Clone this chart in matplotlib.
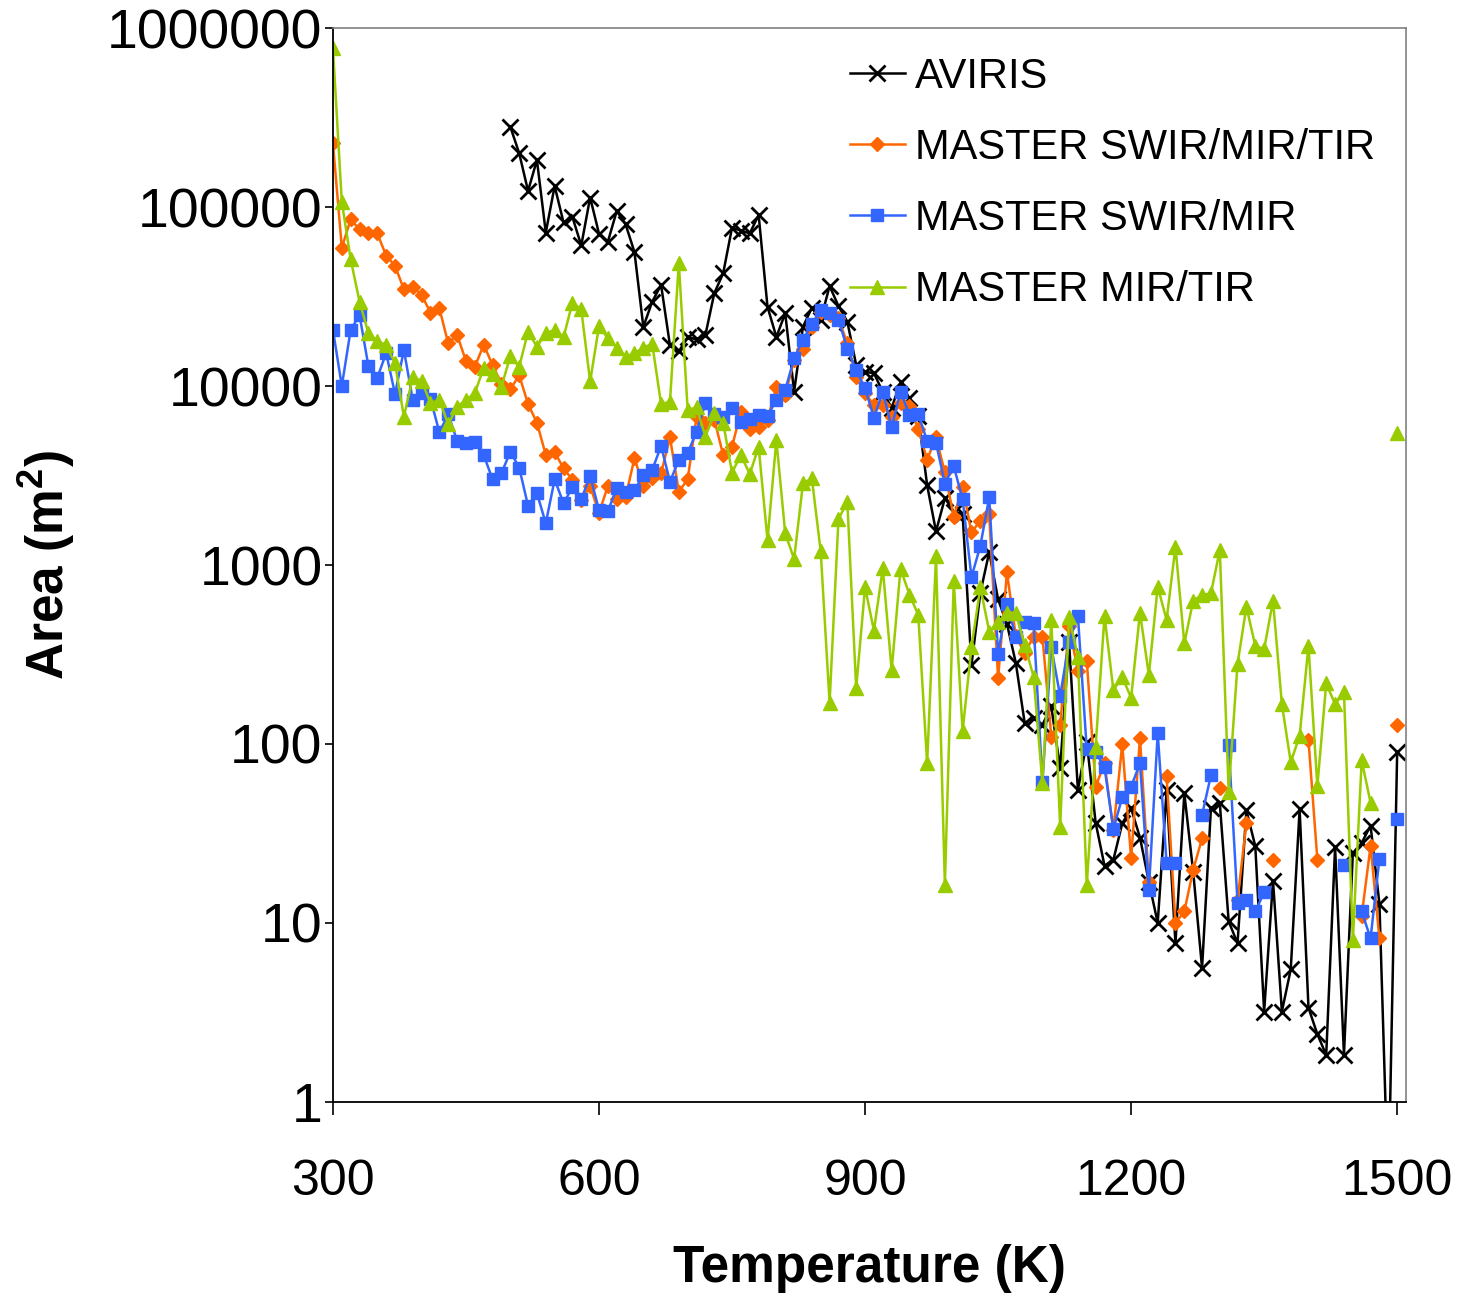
import matplotlib
matplotlib.use("Agg")
import matplotlib.pyplot as plt
import numpy as np
from matplotlib.ticker import FixedLocator, FuncFormatter

nan = np.nan

# temperatures (K)
temps_master = list(range(300, 1510, 10))
temps_aviris = list(range(500, 1510, 10))

aviris = [281000, 200000, 123000, 183000, 72000, 131000, 82000, 88000, 61000, 113000,
          71000, 64000, 95000, 80000, 56000, 21400, 29600, 36700, 16900, 15600,
          18800, 18200, 19300, 33000, 42600, 76700, 73800, 71300, 90200, 27700,
          18800, 25500, 9290, 21400, 27400, 23400, 36200, 28000, 22900, 13100,
          12000, 11800, 9260, 7560, 10500, 8530, 6800, 2790, 1540, 2360,
          1990, 1920, 277, 700, 1180, 643, 468, 284, 131, 140,
          128, 162, 73, 373, 55.3, 103, 36.3, 20.9, 22.5, 36,
          43.7, 30, 17, 10, 55, 7.7, 53, 19.3, 5.6, 43.7,
          46.6, 10.2, 7.7, 42.5, 26.9, 3.2, 17.2, 3.2, 5.5, 43.1,
          3.36, 2.39, 1.83, 26.5, 1.83, 24.5, 28, 35, 12.8, 0.3,
          90]

swir_mir_tir = [227000, 59300, 85300, 75000, 71200, 71200, 53500, 47000, 34700, 35900,
                32200, 25700, 27200, 17300, 19300, 13800, 12800, 17000, 13100, 10300,
                9580, 11500, 7930, 6240, 4120, 4270, 3470, 2990, 2310, 2760,
                1950, 2760, 2330, 2400, 3950, 2760, 3050, 3250, 5170, 2570,
                3010, 6740, 6190, 6500, 4120, 4580, 7190, 5730, 5920, 6500,
                9830, 8910, 14000, 16200, 21400, 26000, 24800, 23900, 17300, 11300,
                9100, 7830, 7830, 6740, 8000, 7700, 5750, 3880, 5170, 3290,
                1860, 2720, 1520, 1770, 1920, 234, 910, 400, 321, 398,
                398, 110, 128, 456, 256, 292, 57.7, 78, 33, 100,
                23, 108, 17, nan, 66, 10, 11.6, 19.8, 29.7, nan,
                56.5, nan, 13.4, 36.3, nan, nan, 22.6, nan, nan, nan,
                105, 22.6, nan, nan, nan, nan, 11, 26.9, 8.2, nan,
                128]

swir_mir = [20600, 10000, 20600, 24900, 12900, 11100, 15300, 9020, 15900, 8350,
            9180, 8500, 5510, 6950, 4950, 4780, 4870, 4110, 3010, 3250,
            4300, 3500, 2140, 2520, 1710, 3010, 2210, 2720, 2330, 3140,
            2030, 2000, 2680, 2570, 2620, 3180, 3400, 4620, 2920, 3860,
            4210, 5560, 8000, 6980, 6680, 7500, 6320, 6520, 6890, 6800,
            8350, 9510, 14300, 18100, 22200, 26600, 25500, 23400, 16200, 12300,
            9710, 6660, 9290, 5880, 9290, 6890, 6960, 4930, 4820, 2850,
            3570, 2330, 855, 1280, 2390, 320, 607, 396, 482, 472,
            61.5, 347, 185, 373, 519, 93.4, 90, 74, 33.4, 50.4,
            57.7, 78, 15.2, 115, 21.6, 21.6, nan, nan, 40.1, 67,
            nan, 98.6, 13, 13.5, 11.6, 14.8, nan, nan, nan, nan,
            nan, nan, nan, nan, 21.2, nan, 11.6, 8.2, 22.9, nan,
            38.2]

mir_tir = [770000, 107000, 51000, 29600, 19700, 17900, 16900, 13400, 6740, 11200,
           10700, 8000, 8400, 6100, 7670, 8360, 9150, 12600, 11700, 9910,
           14700, 12800, 20100, 16600, 19700, 20600, 18700, 29200, 26800, 10600,
           21600, 18500, 16400, 14600, 15200, 16400, 17200, 7930, 8170, 48400,
           7340, 7600, 5210, 7030, 6240, 3280, 4120, 3220, 4580, 1380,
           4990, 1500, 1080, 2860, 3050, 1190, 170, 1800, 2260, 205,
           750, 430, 958, 258, 955, 684, 526, 78, 1117, 16.3,
           816, 118, 347, 750, 425, 480, 539, 537, 357, 238,
           60.3, 493, 34.5, 514, 307, 16.3, 96.6, 519, 200, 237,
           181, 542, 243, 757, 493, 1265, 365, 632, 680, 694,
           1213, 54.2, 280, 584, 354, 339, 632, 167, 79, 111,
           354, 58, 218, 167, 195, 8, 81, 47, nan, nan,
           5460]

x_ticks = [300, 600, 900, 1200, 1500]
y_ticks = [1, 10, 100, 1000, 10000, 100000, 1000000]

plt.rcParams["font.family"] = ["Liberation Sans", "DejaVu Sans"]
plt.rcParams["mathtext.fontset"] = "custom"
plt.rcParams["mathtext.rm"] = "Liberation Sans"
plt.rcParams["mathtext.bf"] = "Liberation Sans:bold"

fig = plt.figure(figsize=(14.59, 12.99), dpi=100)
ax = fig.add_axes([0.2282, 0.1517, 0.7355, 0.8267])

ax.plot(temps_aviris, aviris, color="black", lw=1.8, marker="x", ms=11, mew=2,
        label="AVIRIS")
ax.plot(temps_master, swir_mir_tir, color="#FF6600", lw=1.8, marker="D", ms=7.5,
        label="MASTER SWIR/MIR/TIR")
ax.plot(temps_master, swir_mir, color="#3366FF", lw=1.8, marker="s", ms=8.5,
        label="MASTER SWIR/MIR")
ax.plot(temps_master, mir_tir, color="#99CC00", lw=1.8, marker="^", ms=10.5,
        label="MASTER MIR/TIR")

ax.set_yscale("log")
ax.set_xlim(300, 1510)
ax.set_ylim(1, 1000000)
ax.xaxis.set_major_locator(FixedLocator(x_ticks))
ax.yaxis.set_major_locator(FixedLocator(y_ticks))
ax.yaxis.set_minor_locator(FixedLocator([]))
ax.yaxis.set_major_formatter(FuncFormatter(lambda v, p: f"{int(round(v))}"))

ax.tick_params(axis="y", labelsize=40, length=6, width=1.2, pad=1.5)
ax.tick_params(axis="x", labelsize=36, length=9, width=1.2, pad=32)

for s in ["left", "bottom"]:
    ax.spines[s].set_color("black")
    ax.spines[s].set_linewidth(1.3)
for s in ["top", "right"]:
    ax.spines[s].set_color("#808080")
    ax.spines[s].set_linewidth(1.2)

ax.set_xlabel("Temperature (K)", fontsize=37, fontweight="bold", labelpad=28)
ax.set_ylabel(r"Area (m$^\mathbf{2}$)", fontsize=37, fontweight="bold", labelpad=22)

ax.legend(loc="upper left", bbox_to_anchor=(0.466, 0.989), frameon=False,
          fontsize=30, handlelength=1.32, handletextpad=0.24, labelspacing=0.75,
          borderaxespad=0)

fig.savefig("out.png", dpi=100)
